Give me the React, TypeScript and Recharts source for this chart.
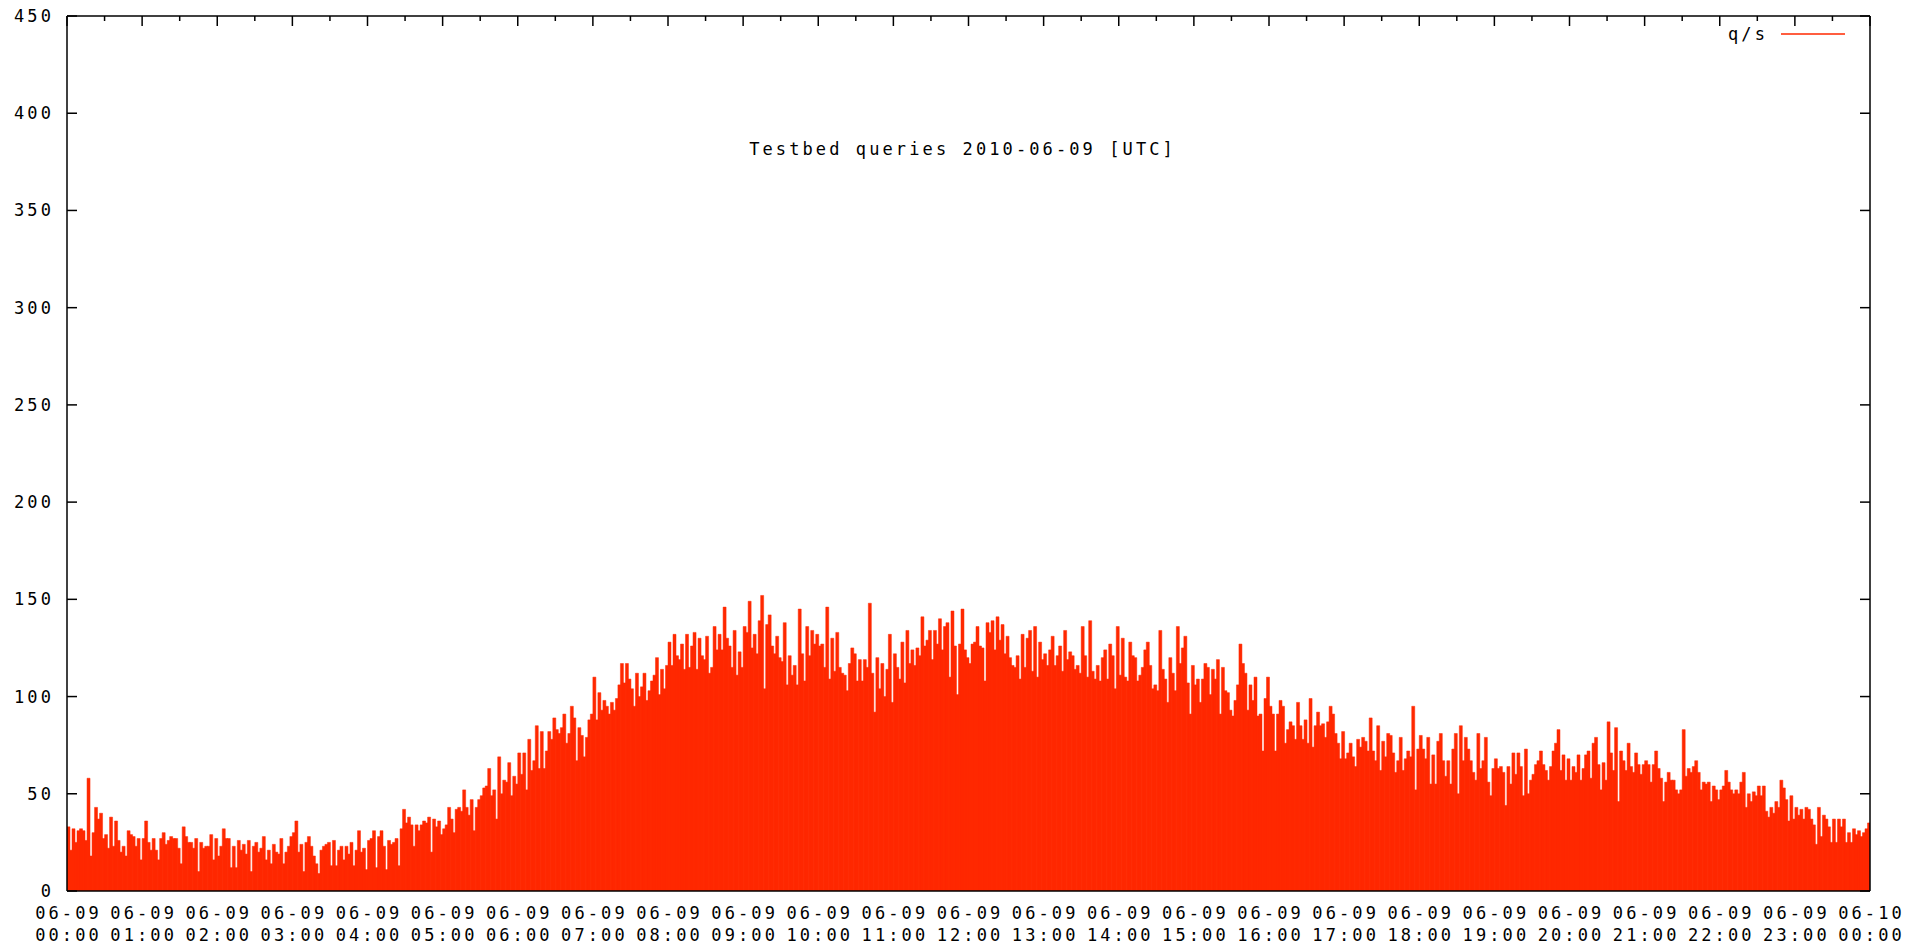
import { BarChart, Bar, XAxis, YAxis } from "recharts"

// queries per second, one value per 2 minutes, grouped by hour (UTC)
const h00 = [33, 21, 32, 25, 31, 32, 31, 26, 58, 18, 30, 43, 37, 40, 27, 29, 22, 38, 23, 36, 26, 20, 23, 18, 31, 29, 28, 23, 27, 16]
const h01 = [27, 36, 25, 21, 27, 21, 16, 27, 30, 24, 26, 28, 27, 27, 22, 14, 33, 28, 25, 25, 22, 27, 10, 25, 22, 23, 23, 29, 16, 27]
const h02 = [18, 23, 32, 27, 27, 12, 23, 12, 26, 21, 24, 19, 26, 10, 23, 25, 20, 22, 28, 16, 21, 14, 24, 20, 19, 27, 14, 20, 23, 28]
const h03 = [30, 36, 20, 24, 10, 25, 28, 23, 18, 14, 9, 21, 23, 24, 25, 13, 26, 13, 21, 23, 16, 23, 19, 25, 13, 21, 31, 20, 22, 11]
const h04 = [26, 27, 31, 12, 28, 31, 23, 11, 26, 24, 25, 27, 13, 32, 42, 35, 38, 34, 23, 34, 31, 34, 36, 35, 38, 20, 37, 33, 36, 29]
const h05 = [32, 34, 43, 37, 30, 42, 43, 41, 52, 43, 39, 47, 31, 43, 47, 49, 53, 54, 63, 49, 52, 37, 69, 50, 57, 56, 66, 49, 59, 55]
const h06 = [71, 60, 71, 52, 78, 62, 67, 85, 63, 82, 63, 72, 82, 78, 89, 83, 81, 84, 91, 76, 81, 95, 89, 67, 84, 80, 69, 79, 88, 91]
const h07 = [110, 88, 102, 93, 98, 95, 91, 97, 93, 99, 106, 117, 107, 117, 109, 104, 95, 112, 100, 105, 112, 98, 103, 108, 111, 120, 101, 114, 104, 116]
const h08 = [128, 116, 132, 121, 119, 127, 114, 132, 115, 126, 133, 114, 130, 121, 119, 131, 112, 115, 136, 124, 132, 124, 146, 130, 126, 115, 134, 111, 123, 115]
const h09 = [136, 133, 149, 125, 132, 122, 139, 152, 104, 137, 142, 126, 122, 131, 120, 118, 138, 106, 121, 111, 116, 106, 145, 122, 108, 136, 121, 134, 127, 132]
const h10 = [126, 127, 115, 146, 109, 130, 113, 133, 115, 112, 111, 103, 117, 125, 122, 108, 119, 108, 119, 115, 148, 112, 92, 120, 104, 117, 100, 114, 132, 97]
const h11 = [122, 115, 109, 128, 107, 134, 117, 124, 116, 125, 121, 141, 126, 129, 134, 119, 134, 127, 140, 124, 136, 138, 110, 144, 126, 101, 127, 145, 124, 120]
const h12 = [117, 127, 128, 136, 126, 125, 108, 138, 133, 139, 124, 141, 129, 137, 122, 131, 120, 116, 115, 121, 109, 132, 115, 130, 134, 113, 136, 110, 128, 119]
const h13 = [122, 116, 124, 131, 116, 121, 126, 113, 134, 119, 123, 121, 114, 116, 112, 136, 121, 110, 139, 113, 109, 116, 108, 120, 124, 109, 127, 121, 104, 136]
const h14 = [111, 130, 110, 108, 128, 121, 120, 108, 111, 115, 124, 128, 116, 104, 106, 103, 134, 114, 109, 97, 120, 112, 103, 136, 117, 125, 131, 107, 91, 116]
const h15 = [106, 109, 97, 109, 117, 115, 101, 114, 109, 119, 91, 115, 103, 102, 93, 90, 98, 106, 127, 117, 112, 93, 106, 98, 110, 90, 91, 72, 99, 110]
const h16 = [95, 91, 72, 91, 98, 95, 76, 83, 87, 85, 78, 97, 85, 78, 88, 76, 99, 74, 85, 92, 85, 86, 79, 87, 95, 91, 81, 76, 68, 82]
const h17 = [68, 71, 76, 69, 64, 78, 74, 79, 77, 72, 89, 72, 67, 85, 62, 77, 69, 81, 80, 71, 61, 67, 79, 62, 68, 72, 69, 95, 52, 73]
const h18 = [80, 73, 68, 79, 55, 70, 55, 77, 81, 67, 59, 67, 55, 73, 81, 50, 85, 67, 79, 73, 67, 61, 57, 81, 63, 67, 79, 56, 49, 63]
const h19 = [68, 63, 64, 61, 44, 64, 55, 71, 60, 71, 64, 49, 73, 50, 57, 60, 65, 67, 72, 65, 62, 57, 64, 72, 76, 83, 62, 70, 57, 68]
const h20 = [57, 64, 61, 70, 57, 63, 70, 72, 58, 76, 79, 65, 52, 66, 57, 87, 71, 62, 84, 46, 72, 67, 62, 76, 64, 61, 71, 65, 60, 65]
const h21 = [67, 65, 56, 65, 72, 63, 58, 46, 56, 61, 57, 57, 52, 50, 52, 83, 59, 63, 61, 64, 67, 61, 52, 56, 55, 56, 46, 54, 52, 47]
const h22 = [52, 54, 62, 56, 52, 50, 52, 50, 56, 61, 43, 50, 46, 51, 49, 54, 49, 54, 41, 38, 43, 40, 46, 43, 57, 53, 47, 36, 49, 37]
const h23 = [43, 39, 42, 37, 43, 42, 37, 34, 24, 43, 28, 39, 37, 33, 25, 37, 25, 37, 33, 37, 25, 30, 25, 32, 29, 31, 28, 30, 32, 35]

const hours = [h00, h01, h02, h03, h04, h05, h06, h07, h08, h09, h10, h11, h12, h13, h14, h15, h16, h17, h18, h19, h20, h21, h22, h23]

const dateLabels = [
  "06-09", "06-09", "06-09", "06-09", "06-09", "06-09", "06-09", "06-09", "06-09", "06-09", "06-09", "06-09", "06-09",
  "06-09", "06-09", "06-09", "06-09", "06-09", "06-09", "06-09", "06-09", "06-09", "06-09", "06-09", "06-10",
]
const timeLabels = [
  "00:00", "01:00", "02:00", "03:00", "04:00", "05:00", "06:00", "07:00", "08:00", "09:00", "10:00", "11:00", "12:00",
  "13:00", "14:00", "15:00", "16:00", "17:00", "18:00", "19:00", "20:00", "21:00", "22:00", "23:00", "00:00",
]
const yTicks = [0, 50, 100, 150, 200, 250, 300, 350, 400, 450]

const hourTicks = dateLabels.map((_, i) => i * 60)
const halfHourTicks = hours.map((_, i) => i * 60 + 30)

// bar centred in its 2 minute slot
const data = hours.flatMap((vals, h) => vals.map((qps, i) => ({ minute: h * 60 + i * 2 + 1, qps })))

const FONT = "'DejaVu Sans Mono', monospace"
const FS = 17
const LS = 3.1
const RED = "#ff2800"
// axes need a positive height to be drawn; this keeps stacked axes on the same line
const THIN = 0.001

function TimeTick(props: any) {
  const { x, y, payload } = props
  const idx = Math.round(payload.value / 60)
  const cx = x + LS / 2
  return (
    <text x={cx} y={y} textAnchor="middle" fontFamily={FONT} fontSize={FS} letterSpacing={LS} fill="#000">
      <tspan x={cx} dy={28}>{dateLabels[idx]}</tspan>
      <tspan x={cx} dy={22}>{timeLabels[idx]}</tspan>
    </text>
  )
}

function ValueTick(props: any) {
  const { x, y, payload } = props
  return (
    <text x={x} y={y + 6} textAnchor="end" fontFamily={FONT} fontSize={FS} letterSpacing={LS} fill="#000">
      {payload.value}
    </text>
  )
}

function NoLabel() {
  return <g />
}

export default function App() {
  const axisLine = { stroke: "#000", strokeWidth: 1.5 }
  const tickLine = { stroke: "#000", strokeWidth: 1.5 }
  return (
    <div style={{ position: "relative", width: 1923, height: 944, margin: "-8px 0 0 -8px" }}>
      <BarChart
        width={1923}
        height={944}
        data={data}
        margin={{ top: 16, right: 0, bottom: 53, left: 0 }}
        barCategoryGap={0}
        barGap={0}
      >
        <XAxis
          xAxisId="time"
          dataKey="minute"
          type="number"
          domain={[0, 1440]}
          allowDataOverflow
          ticks={hourTicks}
          orientation="bottom"
          height={THIN}
          tickSize={0}
          tickMargin={0}
          tick={<TimeTick />}
          axisLine={axisLine}
          tickLine={false}
          interval={0}
        />
        <XAxis
          xAxisId="top"
          dataKey="minute"
          type="number"
          domain={[0, 1440]}
          allowDataOverflow
          ticks={hourTicks}
          orientation="top"
          height={THIN}
          tickSize={-10}
          tick={<NoLabel />}
          axisLine={axisLine}
          tickLine={tickLine}
          interval={0}
        />
        <XAxis
          xAxisId="minorTop"
          dataKey="minute"
          type="number"
          domain={[0, 1440]}
          allowDataOverflow
          ticks={halfHourTicks}
          orientation="top"
          height={THIN}
          tickSize={-5}
          tick={<NoLabel />}
          axisLine={false}
          tickLine={tickLine}
          interval={0}
        />
        <YAxis
          yAxisId="left"
          type="number"
          domain={[0, 450]}
          allowDataOverflow
          ticks={yTicks}
          orientation="left"
          width={67}
          tickSize={-10}
          tickMargin={23}
          tick={<ValueTick />}
          axisLine={axisLine}
          tickLine={tickLine}
          interval={0}
        />
        <YAxis
          yAxisId="right"
          type="number"
          domain={[0, 450]}
          allowDataOverflow
          ticks={yTicks}
          orientation="right"
          width={53}
          tickSize={-10}
          tick={<NoLabel />}
          axisLine={axisLine}
          tickLine={tickLine}
          interval={0}
        />
        <Bar
          dataKey="qps"
          xAxisId="time"
          yAxisId="left"
          fill={RED}
          stroke={RED}
          strokeWidth={0.5}
          isAnimationActive={false}
        />
      </BarChart>
      <svg
        width={1923}
        height={944}
        style={{ position: "absolute", left: 0, top: 0, pointerEvents: "none" }}
      >
        <text x={961 + LS / 2} y={155} textAnchor="middle" fontFamily={FONT} fontSize={FS} letterSpacing={LS} fill="#000">
          Testbed queries 2010-06-09 [UTC]
        </text>
        <text x={1728} y={40} fontFamily={FONT} fontSize={FS} letterSpacing={LS} fill="#000">
          q/s
        </text>
        <line x1={1781} x2={1845} y1={34} y2={34} stroke={RED} strokeWidth={1.5} />
      </svg>
    </div>
  )
}
